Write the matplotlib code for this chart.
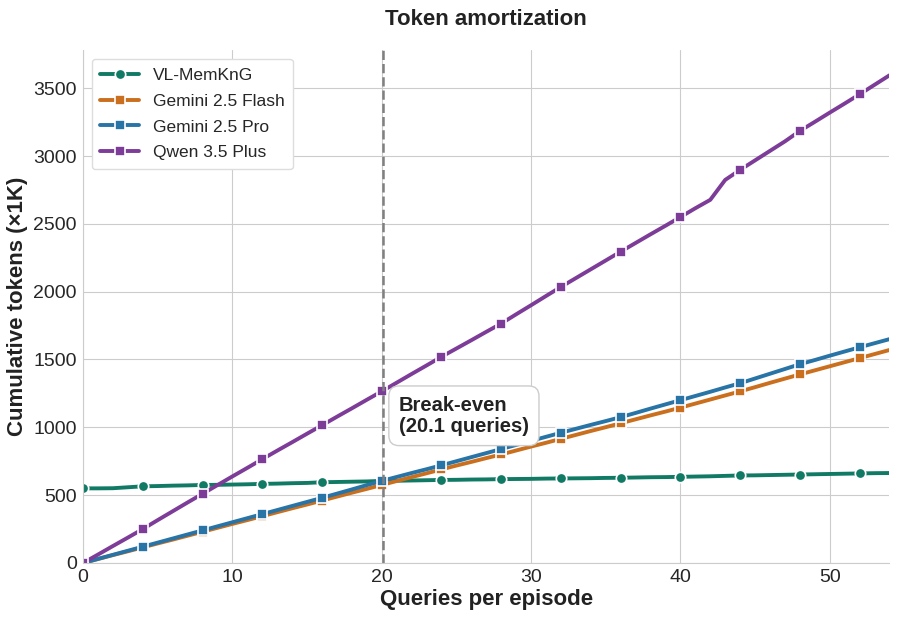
import numpy as np
import matplotlib.pyplot as plt
import seaborn as sns

sns.set_style("whitegrid")
plt.rcParams['font.family'] = ['Liberation Sans', 'DejaVu Sans']

# queries per episode 0..54
queries = list(range(55))

vl_memkng = [550, 550, 551, 558, 565, 567, 570, 572, 575, 576, 578, 580, 583, 585, 588, 590, 595, 597, 599, 601, 605, 606, 608, 610, 612,
             613, 615, 616, 618, 619, 620, 622, 623, 624, 625, 627, 628, 630, 632, 633, 635, 637, 639, 642, 645, 646, 648, 650, 652, 654, 656, 658, 660, 662, 663]
gemini_flash = [0, 29, 58, 86, 115, 144, 172, 201, 230, 259, 288, 316, 345, 374, 403, 431, 460, 489, 518, 546, 575, 604, 633, 661, 690,
                718, 745, 773, 800, 829, 858, 886, 915, 944, 973, 1001, 1030, 1059, 1088, 1116, 1145, 1175, 1205, 1235, 1265, 1296, 1328, 1359, 1390, 1420, 1450, 1480, 1510, 1540, 1570]
gemini_pro = [0, 30, 60, 90, 120, 150, 180, 210, 240, 270, 300, 330, 360, 390, 420, 450, 480, 511, 542, 574, 605, 634, 663, 691, 720,
              750, 780, 810, 840, 870, 900, 930, 960, 989, 1018, 1046, 1075, 1106, 1138, 1169, 1200, 1231, 1262, 1294, 1325, 1360, 1395, 1430, 1465, 1496, 1528, 1559, 1590, 1620, 1650]
qwen_plus = [0, 62, 125, 187, 250, 316, 381, 446, 510, 574, 638, 701, 765, 828, 890, 953, 1015, 1078, 1140, 1203, 1265, 1329, 1393, 1456, 1520,
             1581, 1642, 1704, 1765, 1833, 1900, 1968, 2035, 2100, 2165, 2230, 2295, 2359, 2423, 2486, 2550, 2615, 2677, 2824, 2898, 2968, 3038, 3108, 3185, 3252, 3320, 3387, 3455, 3525, 3595]

series = [
    ("VL-MemKnG", vl_memkng, "#117a65", "o"),
    ("Gemini 2.5 Flash", gemini_flash, "#ca6f1e", "s"),
    ("Gemini 2.5 Pro", gemini_pro, "#2874a6", "s"),
    ("Qwen 3.5 Plus", qwen_plus, "#7d3c98", "s"),
]
break_even = 20.1

fig = plt.figure(figsize=(8.98, 6.2), dpi=100)
ax = fig.add_axes([0.0925, 0.092, 0.898, 0.827])

for name, vals, color, mk in series:
    ax.plot(queries, vals, color=color, lw=2.8, marker=mk, markevery=4,
            markersize=7.5, markeredgecolor="white", markeredgewidth=1.2, label=name)

ax.axvline(break_even, color="gray", ls="--", lw=1.8)
ax.text(break_even + 1.05, 1085, "Break-even\n(20.1 queries)", fontsize=14.5,
        fontweight="bold", color="#222222", va="center", ha="left", linespacing=1.1,
        bbox=dict(boxstyle="round,pad=0.5", fc="white", ec="#cccccc", lw=1))

ax.set_xlim(0, 54)
ax.set_ylim(0, 3780)
ax.set_xticks([0, 10, 20, 30, 40, 50])
ax.set_yticks(np.arange(0, 3501, 500))
ax.tick_params(labelsize=14, pad=1)
ax.set_xlabel("Queries per episode", fontsize=16, fontweight="bold", color="#222222", labelpad=2)
ax.set_ylabel("Cumulative tokens (×1K)", fontsize=16, fontweight="bold", color="#222222", labelpad=4)
ax.set_title("Token amortization", fontsize=16, fontweight="bold", color="#222222", pad=18)

for s in ["top", "right"]:
    ax.spines[s].set_visible(False)
for s in ["left", "bottom"]:
    ax.spines[s].set_color("#cccccc")

ax.legend(loc="upper left", fontsize=12.5, frameon=True, framealpha=1,
          edgecolor="#dddddd", handlelength=2.2, borderpad=0.5, labelspacing=0.62)

fig.savefig("out.png", dpi=100)
